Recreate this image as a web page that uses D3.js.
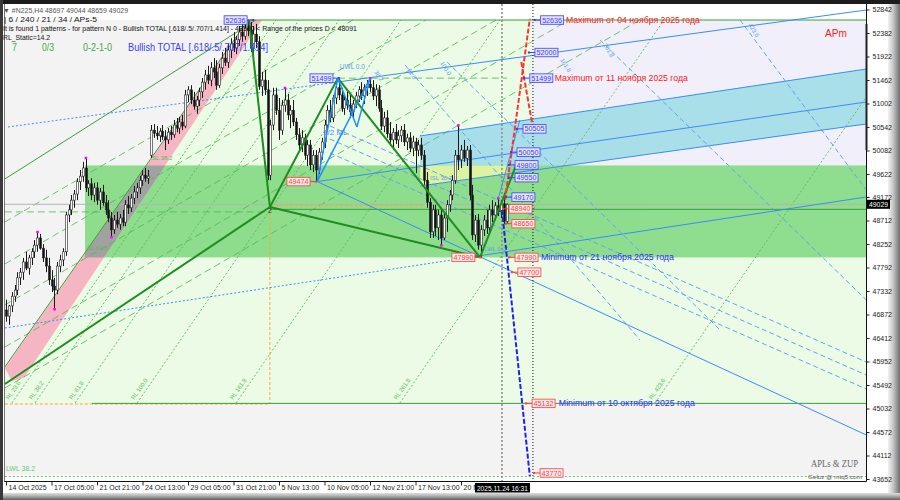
<!DOCTYPE html>
<html><head><meta charset="utf-8">
<script src="https://cdn.jsdelivr.net/npm/d3@7"></script>
<style>body{margin:0;background:#fff}svg{display:block;font-family:"Liberation Sans",Arial,sans-serif}</style>
</head><body><svg id="c" width="900" height="500"></svg>
<script>
// ---------------- DATA ----------------
const yTicks = [52842,52382,51922,51462,51002,50542,50082,49622,49172,48712,48252,47792,47332,46872,46412,45952,45492,45032,44572,44112,43652];
const xTickIdx = [0,16,32,48,64,80,96,112,128,144,160];
const xTickLabels = ["14 Oct 2025","17 Oct 05:00","21 Oct 21:00","24 Oct 13:00","29 Oct 05:00","31 Oct 21:00","5 Nov 13:00","10 Nov 05:00","12 Nov 21:00","17 Nov 13:00","20 Nov 05:00"];

const opens = [46960,46840,47040,47230,47350,47590,47700,47900,47780,47980,
48100,48230,48370,48170,47980,47820,47550,47430,47350,47820,
47940,48100,48820,48920,49110,49230,49470,49580,49740,49350,
49430,49210,49350,49110,49270,49060,48920,48760,48530,48720,
48640,48760,48680,49020,48960,49150,49270,49350,49500,49600,
49540,49990,50480,50420,50370,50460,50350,50290,50440,50390,
50580,50520,50640,50560,51170,51270,51070,50950,51070,51230,
51420,51560,51460,51700,51620,51360,51700,51890,51810,52050,
52170,52090,52250,52400,52320,52480,52440,52090,52360,52210,
51340,51460,51270,49600,50580,51170,50870,50480,50970,51070,
50780,50870,50640,50390,50190,50330,49990,50190,49800,49990,
49700,50050,50250,50580,50870,50720,51110,51310,51170,50910,
51070,50970,50840,50990,51150,51270,51150,51310,51380,51310,
51150,51270,50910,50560,50720,50410,50290,50440,50290,50370,
50480,50250,50330,50130,50250,50090,50190,49990,49500,49070,
48490,48920,48570,48820,48370,48760,49020,49210,49500,49990,
49900,50090,49930,50090,49210,48430,48720,48230,48530,48720,
48570,48920,48820,49000,48880,49040,48697];
const highs = [47160,47060,47310,47450,47700,47780,47980,48100,48040,48170,
48330,48490,48450,48250,48140,47980,47740,47590,47900,48040,
48170,48880,49020,49210,49310,49540,49700,49860,49940,49500,
49540,49450,49460,49350,49410,49210,49110,48880,48820,48880,
48840,48920,49110,49190,49230,49390,49450,49580,49700,49740,
49700,50580,50600,50560,50520,50580,50480,50520,50560,50680,
50720,50740,50780,51270,51340,51360,51230,51150,51310,51500,
51660,51740,51810,51890,51850,51780,52010,52090,52170,52280,
52400,52320,52520,52560,52600,52636,52600,52520,52560,52320,
51620,51660,51460,50680,51310,51310,51110,51070,51310,51190,
50970,51070,50720,50520,50480,50410,50290,50290,50090,50090,
50130,50330,50680,50970,51070,51170,51420,51499,51310,51150,
51230,51190,51070,51230,51340,51420,51380,51460,51500,51460,
51380,51360,51070,50840,50870,50640,50520,50600,50480,50560,
50600,50410,50440,50370,50330,50290,50330,50090,49660,49150,
49020,49020,48920,48960,48880,49110,49310,49600,50090,50580,
50190,50290,50170,50190,49410,48820,48840,48620,48820,48920,
49020,49110,49070,49150,49110,49190,49044];
const lows = [46730,46670,46920,47120,47250,47450,47550,47740,47650,47840,
47980,48100,48140,47900,47700,47450,47310,46980,47270,47700,
47820,48020,48680,48820,48960,49110,49310,49470,49270,49190,
49110,49070,49020,48920,49000,48820,48680,48390,48450,48570,
48530,48600,48600,48840,48880,49030,49150,49230,49390,49470,
49430,49940,50330,50290,50250,50290,50090,50210,50290,50330,
50440,50410,50480,50520,51030,50990,50880,50800,50950,51110,
51270,51380,51340,51500,51270,51310,51580,51740,51700,51890,
52010,51970,52130,52210,52250,52320,52010,51930,52090,51270,
51150,51170,49500,49500,50480,50780,50290,50390,50840,50680,
50520,50560,50290,50090,50050,49900,49780,49700,49660,49474,
49620,49900,50130,50480,50640,50640,50990,51070,50840,50780,
50880,50720,50720,50910,51030,51070,50990,51150,51230,51070,
50950,50840,50480,50440,50330,50170,50090,50210,50130,50250,
50170,50090,50050,49970,49640,49970,49900,49410,48960,48370,
48370,48410,48330,48230,48330,48490,48880,49110,49430,49700,
49740,49860,49780,49110,48330,48290,48140,47990,48410,48450,
48490,48680,48720,48800,48760,48640,48659];
const closes = [46840,47040,47230,47350,47590,47700,47900,47780,47980,48100,
48230,48370,48170,47980,47820,47550,47430,47350,47820,47940,
48100,48820,48920,49110,49230,49470,49580,49740,49350,49430,
49210,49350,49110,49270,49060,48920,48760,48530,48720,48640,
48760,48680,49020,48960,49150,49270,49350,49500,49600,49540,
49580,50480,50420,50370,50460,50350,50290,50440,50390,50580,
50520,50640,50560,51170,51270,51070,50950,51070,51230,51420,
51560,51460,51700,51620,51360,51700,51890,51810,52050,52170,
52090,52250,52400,52320,52480,52440,52090,52360,52210,51340,
51460,51270,49600,50580,51170,50870,50480,50970,51070,50780,
50870,50640,50390,50190,50330,49990,50190,49800,49990,49700,
50050,50250,50580,50870,50720,51110,51310,51170,50910,51070,
50970,50840,50990,51150,51270,51150,51310,51380,51310,51150,
51270,50910,50560,50720,50410,50290,50440,50290,50370,50480,
50250,50330,50130,50250,50090,50190,49990,49500,49070,48490,
48920,48570,48820,48370,48760,49020,49210,49500,49990,49900,
50090,49930,50090,49210,48430,48720,48230,48530,48720,48570,
48920,48820,49000,48880,49040,48697,49029];

const fractalBars = [11,17,28,37,98,128,153,159,173];
const fractalPrices = [48490,46980,49940,48390,51310,51500,48230,50580,49150];

// zones (bar index, price)
const lightGreenZone = [[-0.4,45845],[85.1,52636],[302.5,52636],[302.5,45132],[-0.4,45132]];
const lavenderZone = [[185.3,49790],[302.5,52636]];
const greenBox = [[27.8,47990],[302.5,49790]];
const cyanBand = [[145.6,50366],[302.5,51677],[302.5,50601],[145.6,49388]];
const yellowZone = [[145.6,49790],[176.2,49790],[176.2,49624],[145.6,49388]];
const pinkBand = [[-0.4,45825],[85.1,52636],[90,52636],[6.3,45630],[2.1,45571]];
const grayZone = [[-0.4,43720],[302.5,52636]];

// line segments [bar1, price1, bar2, price2]
const zigzagGreen = [[-0.4,45512,92.8,48976],[92.8,48976,85.5,52636],[92.8,48976,116.7,51499],[116.7,51499,166.7,47990],[92.8,48976,166.7,47990],[166.7,47990,179.7,49838]];
const thinGreen = [[-0.4,45845,85.1,52636],[-0.4,49525,87.9,52636],[85.1,52636,302.5,52636],[30.2,45132,302.5,45132],[92.8,48930,302.5,48930]];
const slLines = [[-0.4,48683,122.0,52636],[-0.4,47861,147.7,52636],[-0.4,47058,172.3,52636],[-0.4,46236,198.0,52636],[-0.4,45434,222.9,52636],[-0.4,48880,92.8,48880],[116.7,51499,176.2,51499]];
const rlLines = [[2.1,45140,94.9,52636],[10.2,45140,103.0,52636],[24.3,45140,117.1,52636],[46.1,45140,138.9,52636],[80.9,45140,173.7,52636],[138.5,45140,231.4,52636],[228.2,45140,302.5,51130]];
const rlNames = ["RL 23.6","RL 38.2","RL 61.8","RL 100.0","RL 161.8","RL 261.8","RL 423.6"];
const lwlLine = [[-0.4,43700,302.5,43700]];
const orangeLines = [[-0.4,45120,92.8,45120],[92.8,48976,92.8,45120],[92.8,49000,147,49000]];
const bluePattern = [[109.4,49474,116.7,51499],[116.7,51499,123.4,50542],[123.4,50542,128,51490],[109.4,49474,128,51490]];
const blueThin = [[109.4,49474,302.5,51032],[109.4,49474,302.5,44514],[145.6,50366,302.5,51677],[145.6,49388,302.5,50601],[113.9,51402,302.5,52832],[166.7,48023,302.5,49172],[173,49114,180.7,50679]];
const blueDotted = [[0.7,50542,113.9,51402],[-0.4,46608,166.7,48023]];
const blueDashed = [[113.9,50562,302.5,45942],[113.9,50307,302.5,45688],[113.9,50033,302.5,45414],[140.3,51756,222.9,46373],[155.1,51815,251.1,46569],[208.9,52245,302.5,47156],[258.1,52637,302.5,49309]];
const redProjection = [[175.5,49114,184.2,52660],[181.2,51815,185.3,50523]];
const blueProjection = [[174.4,48918,184.2,43711]];
const vGrayBar = 174.4, vBlackBar = 185.3;
const currentPrice = 49029;

const tagPrices = [52636,52636,52000,51499,51499,50505,50050,49800,49550,49170,48940,48650,47990,47700,47990,49474,45132,43770];
const tagBars =   [188.0,76.7,186.0,184.2,106.9,181.8,179.7,179.0,179.0,177.9,176.9,177.9,179.0,180.0,156.8,98.8,185.0,187.8];
const tagKinds =  ["b","b","b","b","b","b","b","b","b","b","r","r","r","r","r","r","r","r"];

const descTexts = ["Maximum от 04 ноября 2025 года","Maximum от 11 ноября 2025 года","Minimum от 21 ноября 2025 года","Minimum от 10 октября 2025 года"];
const descPrices = [52636,51499,47990,45132];
const descBars = [196.9,193.0,188.1,194.4];
const descColors = ["#ff2020","#ff2020","#2a2aff","#2a2aff"];
const descLens = [134,133,133,136];

const blueFibNames = ["38.2","61.8","100.0","161.8","261.8","423.6"];
const blueFibBars = [129.4,141.0,152.6,194.8,209.9,260.9];
const blueFibPrices = [51619,51658,51795,51854,52147,52539];

// ---------------- DRAW ----------------
const svg = d3.select('#c');
const xs = d3.scaleLinear().domain([0,160]).range([6,461]);
const ys = d3.scaleLinear().domain([43652,52842]).range([479,9.5]);
const poly = pts => d3.line().x(d=>xs(d[0])).y(d=>ys(d[1]))(pts) + 'Z';
const rectOf = (g, z, fill) => g.append('rect').attr('x',xs(z[0][0])).attr('y',ys(z[1][1]))
  .attr('width',xs(z[1][0])-xs(z[0][0])).attr('height',ys(z[0][1])-ys(z[1][1])).attr('fill',fill);
function segs(g, arr, stroke, w, dash, op){
  g.append('g').selectAll('line').data(arr).join('line')
   .attr('x1',d=>xs(d[0])).attr('y1',d=>ys(d[1])).attr('x2',d=>xs(d[2])).attr('y2',d=>ys(d[3]))
   .attr('stroke',stroke).attr('stroke-width',w).attr('stroke-dasharray',dash||null).attr('opacity',op||1);
}
function T(g, x, y, s, size, fill, len, fam){
  const t = g.append('text').attr('x',x).attr('y',y).text(s).attr('font-size',size).attr('fill',fill);
  if(len) t.attr('textLength',len).attr('lengthAdjust','spacingAndGlyphs');
  if(fam) t.attr('font-family',fam);
  return t;
}

const defs = svg.append('defs');
const gr = defs.append('linearGradient').attr('id','bevR').attr('x1','0').attr('x2','1').attr('y1','0').attr('y2','0');
gr.append('stop').attr('offset','0').attr('stop-color','#f2f2f2');
gr.append('stop').attr('offset','0.4').attr('stop-color','#c9c9c9');
gr.append('stop').attr('offset','1').attr('stop-color','#6e6e6e');
const gb = defs.append('linearGradient').attr('id','bevB').attr('x1','0').attr('x2','0').attr('y1','0').attr('y2','1');
gb.append('stop').attr('offset','0').attr('stop-color','#dedede');
gb.append('stop').attr('offset','0.4').attr('stop-color','#b5b5b5');
gb.append('stop').attr('offset','1').attr('stop-color','#606060');
defs.append('clipPath').attr('id','plotClip').append('rect').attr('x',4.5).attr('y',4).attr('width',862).attr('height',477.5);
defs.append('clipPath').attr('id','boxClip').append('rect')
  .attr('x',xs(greenBox[0][0])).attr('y',ys(greenBox[1][1])).attr('width',xs(greenBox[1][0])-xs(greenBox[0][0])).attr('height',ys(greenBox[0][1])-ys(greenBox[1][1]));

// frame
svg.append('rect').attr('width',900).attr('height',500).attr('fill','#cfcfcf');
svg.append('rect').attr('x',3).attr('y',4).attr('width',885).attr('height',489).attr('fill','#ffffff');
svg.append('rect').attr('x',888).attr('y',4).attr('width',12).attr('height',496).attr('fill','url(#bevR)');
svg.append('rect').attr('x',0).attr('y',493).attr('width',900).attr('height',7).attr('fill','url(#bevB)');
svg.append('rect').attr('x',0).attr('y',0).attr('width',900).attr('height',4).attr('fill','#1c1c1c');
svg.append('rect').attr('x',0).attr('y',0).attr('width',3).attr('height',500).attr('fill','#3a3a3a');

const plot = svg.append('g').attr('clip-path','url(#plotClip)');
rectOf(plot, grayZone, '#f3f3f3');
plot.append('path').attr('d',poly(lightGreenZone)).attr('fill','#ecfbe6');
rectOf(plot, lavenderZone, '#f1effa');
plot.append('path').attr('d',poly(cyanBand)).attr('fill','#a9dfe8');
rectOf(plot, greenBox, '#8fdd8f');
plot.append('path').attr('d',poly(yellowZone)).attr('fill','#dcf3a2');
plot.append('path').attr('d',poly(pinkBand)).attr('fill','#f6b6c2');
plot.append('g').attr('clip-path','url(#boxClip)').append('path').attr('d',poly(pinkBand)).attr('fill','#a2a2a2');

// background line families
segs(plot, slLines, '#5cb85c', 1, '7,4', 0.85);
segs(plot, rlLines, '#5cb85c', 1, '2,2', 0.9);
segs(plot, lwlLine, '#66bb66', 1, '2,2');
segs(plot, orangeLines, '#ffaa22', 1, '3,2');
// current price line
plot.append('line').attr('x1',xs(-0.4)).attr('x2',xs(302.5)).attr('y1',ys(currentPrice)).attr('y2',ys(currentPrice)).attr('stroke','#b4b4b4').attr('stroke-width',1);
segs(plot, thinGreen, '#3a9f3a', 1);
segs(plot, blueDotted, '#3f8ff0', 1, '2,2');
segs(plot, blueDashed, '#62a4ee', 1, '5,3');
segs(plot, blueThin, '#3a8df5', 1);

// verticals
plot.append('line').attr('x1',xs(vGrayBar)).attr('x2',xs(vGrayBar)).attr('y1',4).attr('y2',481).attr('stroke','#8a8a8a').attr('stroke-width',1.5).attr('stroke-dasharray','2,2');
plot.append('line').attr('x1',xs(vBlackBar)).attr('x2',xs(vBlackBar)).attr('y1',4).attr('y2',481).attr('stroke','#111').attr('stroke-width',1).attr('stroke-dasharray','1,2');

// candles
const bars = closes.map((c,i)=>({i,o:opens[i],h:highs[i],l:lows[i],c}));
const cg = plot.append('g');
cg.selectAll('line').data(bars).join('line')
  .attr('x1',d=>Math.round(xs(d.i))+0.5).attr('x2',d=>Math.round(xs(d.i))+0.5)
  .attr('y1',d=>ys(d.h)).attr('y2',d=>ys(d.l)).attr('stroke','#1a1a1a').attr('stroke-width',1);
cg.selectAll('rect').data(bars).join('rect')
  .attr('x',d=>Math.round(xs(d.i))-0.5).attr('width',2)
  .attr('y',d=>ys(Math.max(d.o,d.c))).attr('height',d=>Math.max(1,Math.abs(ys(d.o)-ys(d.c))))
  .attr('fill',d=>d.c>=d.o?'#ffffff':'#111111').attr('stroke','#222').attr('stroke-width',0.6);
plot.append('g').selectAll('rect').data(fractalBars).join('rect')
  .attr('x',(d)=>xs(d)-1).attr('y',(d,i)=>ys(fractalPrices[i])-1).attr('width',2.5).attr('height',2.5).attr('fill','#ff00ff');

// foreground pattern lines
segs(plot, zigzagGreen, '#1f8c1f', 2);
segs(plot, bluePattern, '#1e8fff', 1.5);
segs(plot, redProjection, '#ff3333', 2, '5,2');
segs(plot, blueProjection, '#2222e6', 2, '5,2');

// small labels
const lab = plot.append('g');
rlLines.forEach((d,i)=>{
  const x = xs(d[0])-3, y = ys(d[1])-3;
  T(lab, x, y, rlNames[i], 6, '#5cb85c').attr('transform',`rotate(-55,${x},${y})`);
});
blueFibNames.forEach((s,i)=>{
  const x = xs(blueFibBars[i]), y = ys(blueFibPrices[i]);
  T(lab, x, y, s, 6, '#5a9ff0').attr('transform',`rotate(58,${x},${y})`);
});
T(lab, xs(28.5), ys(48135), 'SL 61.8', 6, '#5cb85c');
T(lab, xs(51.3), ys(49896), 'SL 38.2', 6, '#5cb85c');
T(lab, xs(111.5), ys(50386), '1/2 ML', 8, '#4a8fe6');
T(lab, xs(117.4), ys(51677), 'UWL 0.0', 6.5, '#5a9ff0');
T(lab, xs(149.1), ys(49505), 'ISL 38.2', 6, '#5a9ff0');
T(lab, xs(168.1), ys(48115), 'LWL 0.0', 6, '#5a9ff0');
T(lab, xs(92.1), ys(48860), '2', 7, '#333');
T(lab, 6, ys(43770)-2, 'LWL 38.2', 7, '#66cc66');

// price tags
const tg = plot.append('g');
tagPrices.forEach((v,i)=>{
  const blue = tagKinds[i]==='b';
  const col = blue ? '#3b3bff' : '#ff3b3b';
  const x = xs(tagBars[i]), y = ys(v);
  const w = 23, h = 8.5;
  const leftSide = tagBars[i] < 170;
  const cx1 = leftSide ? x+w : x-7, cx2 = leftSide ? x+w+6 : x;
  tg.append('line').attr('x1',cx1).attr('x2',cx2).attr('y1',y).attr('y2',y).attr('stroke',col).attr('stroke-width',1);
  tg.append('rect').attr('x',leftSide?cx2-1:cx1).attr('y',y-1).attr('width',2).attr('height',2).attr('fill',col);
  tg.append('rect').attr('x',x).attr('y',y-h/2).attr('width',w).attr('height',h)
    .attr('fill',blue?'#e4e4ff':'#ffecec').attr('stroke',col).attr('stroke-width',0.8);
  T(tg, x+1.5, y+2.6, String(v), 7.2, col, 20);
});
descTexts.forEach((s,i)=>{
  T(tg, xs(descBars[i]), ys(descPrices[i])+3, s, 8.8, descColors[i], descLens[i]);
});

// plot borders
svg.append('line').attr('x1',866.5).attr('x2',866.5).attr('y1',4).attr('y2',481.5).attr('stroke','#111');
svg.append('line').attr('x1',4).attr('x2',866.5).attr('y1',481.5).attr('y2',481.5).attr('stroke','#111');
svg.append('line').attr('x1',4.5).attr('x2',4.5).attr('y1',4).attr('y2',481.5).attr('stroke','#777');
svg.append('rect').attr('x',865.5).attr('y',ys(52560)).attr('width',2).attr('height',ys(50090)-ys(52560)).attr('fill','#222');

// axes
const yAxis = d3.axisRight(ys).tickValues(yTicks).tickSize(3).tickPadding(3).tickFormat(d=>String(d));
const gy = svg.append('g').attr('transform','translate(866.5,0)').call(yAxis);
gy.select('.domain').remove();
gy.selectAll('text').attr('font-size',7).attr('fill','#222').attr('font-family','"Liberation Sans",Arial,sans-serif');
gy.selectAll('line').attr('stroke','#222');
const xAxis = d3.axisBottom(xs).tickValues(xTickIdx).tickSize(4).tickFormat((d,i)=>xTickLabels[i]);
const gx = svg.append('g').attr('transform','translate(0,481.5)').call(xAxis);
gx.select('.domain').remove();
gx.selectAll('text').attr('text-anchor','start').attr('x',2).attr('y',3.5).attr('font-size',7).attr('fill','#222').attr('font-family','"Liberation Sans",Arial,sans-serif');
gx.selectAll('line').attr('stroke','#222');

// current price + time labels
svg.append('rect').attr('x',867).attr('y',ys(currentPrice)-4.5).attr('width',23).attr('height',9).attr('fill','#000');
T(svg, 869, ys(currentPrice)+2.6, String(currentPrice), 7, '#fff', 19);
svg.append('rect').attr('x',xs(vGrayBar)-27).attr('y',483).attr('width',55).attr('height',9.5).attr('fill','#000');
T(svg, xs(vGrayBar)-25, 490.5, '2025.11.24 16:31', 7, '#fff', 51);

// header texts
const hd = svg.append('g');
T(hd, 3, 12.8, '▼ #N225,H4  48697 49044 48659 49029', 7, '#555', 125);
T(hd, 4, 21.8, '| 6 / 240 / 21 / 34 / APs-5', 7, '#111', 93);
T(hd, 3, 30.8, 'It is found 1 patterns  -  for pattern N 0 - Bullish TOTAL [.618/.5/.707/1.414] - 48380 < Range of the prices D < 48091', 7, '#111', 354);
T(hd, 3, 39.8, 'RL_Static=14.2', 7, '#111', 47);
T(hd, 12, 50.5, '7', 10.5, '#44aa44', 5);
T(hd, 42, 50.5, '0/3', 10.5, '#44aa44', 12);
T(hd, 83, 50.5, '0-2-1-0', 10.5, '#44aa44', 29);
T(hd, 128, 50.5, 'Bullish TOTAL [.618/.5/.707/1.414]', 10.5, '#3b3bff', 140);
T(hd, 825, 37, 'APm', 10.5, '#ff2020', 22);
T(hd, 811, 467, 'APLs & ZUP', 9.5, '#666', 47, '"Liberation Serif",serif');
T(hd, 808, 478.5, 'Geloz @ mtq5.com', 6, '#555', 54);
</script></body></html>
